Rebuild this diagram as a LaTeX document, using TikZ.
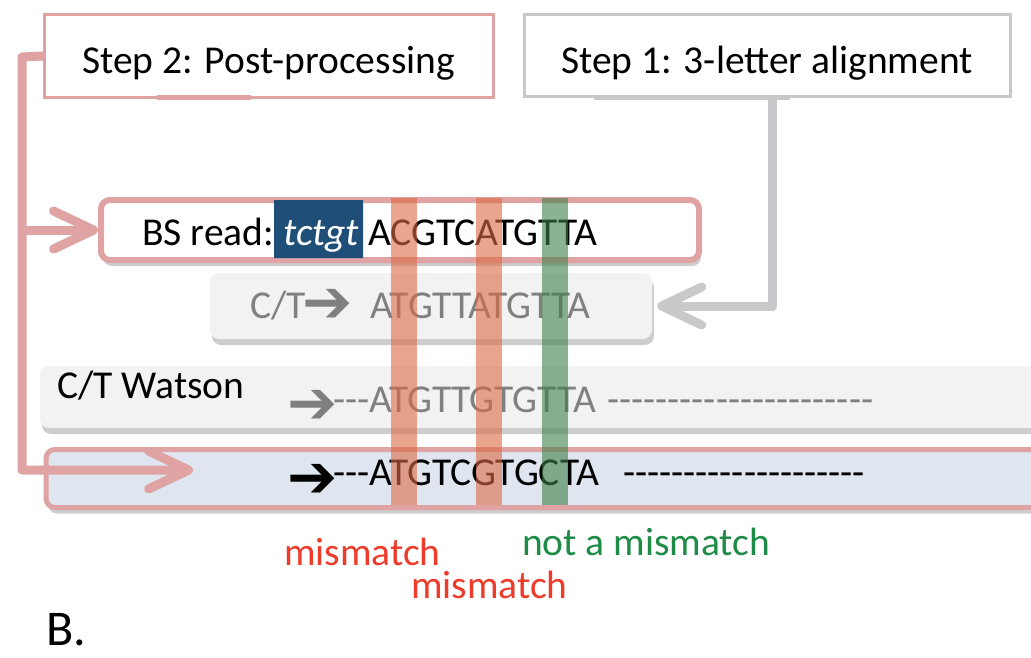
\documentclass[tikz,border=0pt]{standalone}
\usepackage{fontspec}
\setmainfont{Carlito}[Ligatures=TeXOff]
\newfontfamily\symfont{DejaVu Sans}
\usetikzlibrary{arrows.meta,shadows,shapes.misc}
\definecolor{pinkc}{HTML}{DFA3A3}
\definecolor{grayc}{HTML}{C9C9CB}
\definecolor{boxgray}{HTML}{F2F2F2}
\definecolor{boxblue}{HTML}{DFE6F0}
\definecolor{navy}{HTML}{1F4E79}
\definecolor{seqgray}{HTML}{808080}
\definecolor{misred}{HTML}{EE3B2A}
\definecolor{okgreen}{HTML}{1E8C46}
\definecolor{stripred}{HTML}{DD6A45}
\definecolor{stripgreen}{HTML}{3F7F48}
\begin{document}
\begin{tikzpicture}[x=1pt,y=-1pt,
  txt/.style={inner sep=0pt, anchor=base west, font=\fontsize{39.5}{47}\selectfont},
  arrowglyph/.style={inner sep=0pt, anchor=base west, font=\symfont\fontsize{60}{64}\selectfont},
  stepbox/.style={draw, line width=3pt, fill=white, inner sep=0pt},
  softshadow/.style={drop shadow={shadow xshift=2pt,shadow yshift=-6pt,opacity=0.28,fill=black!70}},
  seqbox/.style={rounded corners=9pt, inner sep=0pt, softshadow},
  lineshadow/.style={preaction={draw=black!70, opacity=0.18, transform canvas={shift={(2pt,-4pt)}}}},
  pinkline/.style={draw=pinkc, line width=9pt, line join=round, lineshadow},
  grayline/.style={draw=grayc, line width=9pt, line join=round, lineshadow},
  barb/.style={-{Straight Barb[length=40pt,width=38pt,round]}},
  strip/.style={opacity=0.6},
]
\clip (0,0) rectangle (1031,658);
\fill[white] (0,0) rectangle (1031,658);

% step boxes
\node[stepbox, draw=pinkc, minimum width=449pt, minimum height=83pt] (s2) at (269,56) {};
\node[stepbox, draw=grayc, minimum width=486pt, minimum height=82pt] (s1) at (767.5,55.5) {};
\draw[pinkc, line width=5pt] (157,98) -- (251,98);
\draw[grayc, line width=5pt] (594,98) -- (790,98);
\node[txt] (s2t) at (82,74) {Step 2: Post-processing};
\node[txt] (s1t) at (561,74) {Step 1: 3-letter alignment};

% sequence boxes
\node[seqbox, draw=pinkc, line width=6pt, fill=white, minimum width=598pt, minimum height=60pt] (bs) at (400,230) {};
\node[seqbox, fill=boxgray, minimum width=442pt, minimum height=66pt] (ct) at (431,306) {};
\node[seqbox, fill=boxgray, minimum width=1030pt, minimum height=62pt] (wat) at (555,397) {};
\node[seqbox, draw=pinkc, line width=5pt, fill=boxblue, minimum width=1020pt, minimum height=58pt] (bot) at (556,478.5) {};

% BS read row
\node[txt] (bslab) at (142,245) {BS read:};
\node[chamfered rectangle, chamfered rectangle corners={north west,north east},
      chamfered rectangle xsep=7pt, chamfered rectangle ysep=7pt,
      fill=navy, inner sep=0pt, minimum width=89pt, minimum height=58pt] (tag) at (318.5,229) {};
\node[txt, text=white, font=\itshape\fontsize{39.5}{47}\selectfont] (tagt) at (283,245) {tctgt};
\node[txt] (bsseq) at (368,245) {ACGTCATGTTA};

% C/T row
\node[txt, text=seqgray] (ctlab) at (250,318) {C/T};
\node[arrowglyph, text=seqgray] (ctarr) at (302,322) {➔};
\node[txt, text=seqgray] (ctseq) at (370,318) {ATGTTATGTTA};

% Watson row
\node[txt] (watlab) at (57,398) {C/T Watson};
\node[arrowglyph, text=seqgray] (watarr) at (287,423) {➔};
\node[txt, text=seqgray] (watseq) at (333,412) {---ATGTTGTGTTA\hspace{11pt}----------------------};

% bottom row
\node[arrowglyph, text=black] (botarr) at (287,497) {➔};
\node[txt] (botseq) at (333,485) {---ATGTCGTGCTA\hspace{24pt}--------------------};

% connectors
\coordinate (c1) at (22,57);
\coordinate (p2) at (193,470);
\draw[pinkline, barb] (s2.west) -- (c1) |- (p2);
\draw[pinkline, barb] (c1 |- bs.west) -- (bs.west);
\draw[grayline, barb] ([xshift=5pt]s1.south) |- ([xshift=5pt]ct.east);

% highlight strips
\fill[stripred, strip] (391,198) rectangle (417,505);
\fill[stripred, strip] (476,198) rectangle (502,505);
\fill[stripgreen, strip] (542,198) rectangle (568,505);

% labels
\node[txt, text=misred] (m1) at (284,565) {mismatch};
\node[txt, text=misred] (m2) at (411,598) {mismatch};
\node[txt, text=okgreen] (m3) at (522,555) {not a mismatch};
\node[inner sep=0pt, anchor=base west, font=\fontsize{50}{56}\selectfont] (lab) at (46,645) {B.};
\end{tikzpicture}
\end{document}
